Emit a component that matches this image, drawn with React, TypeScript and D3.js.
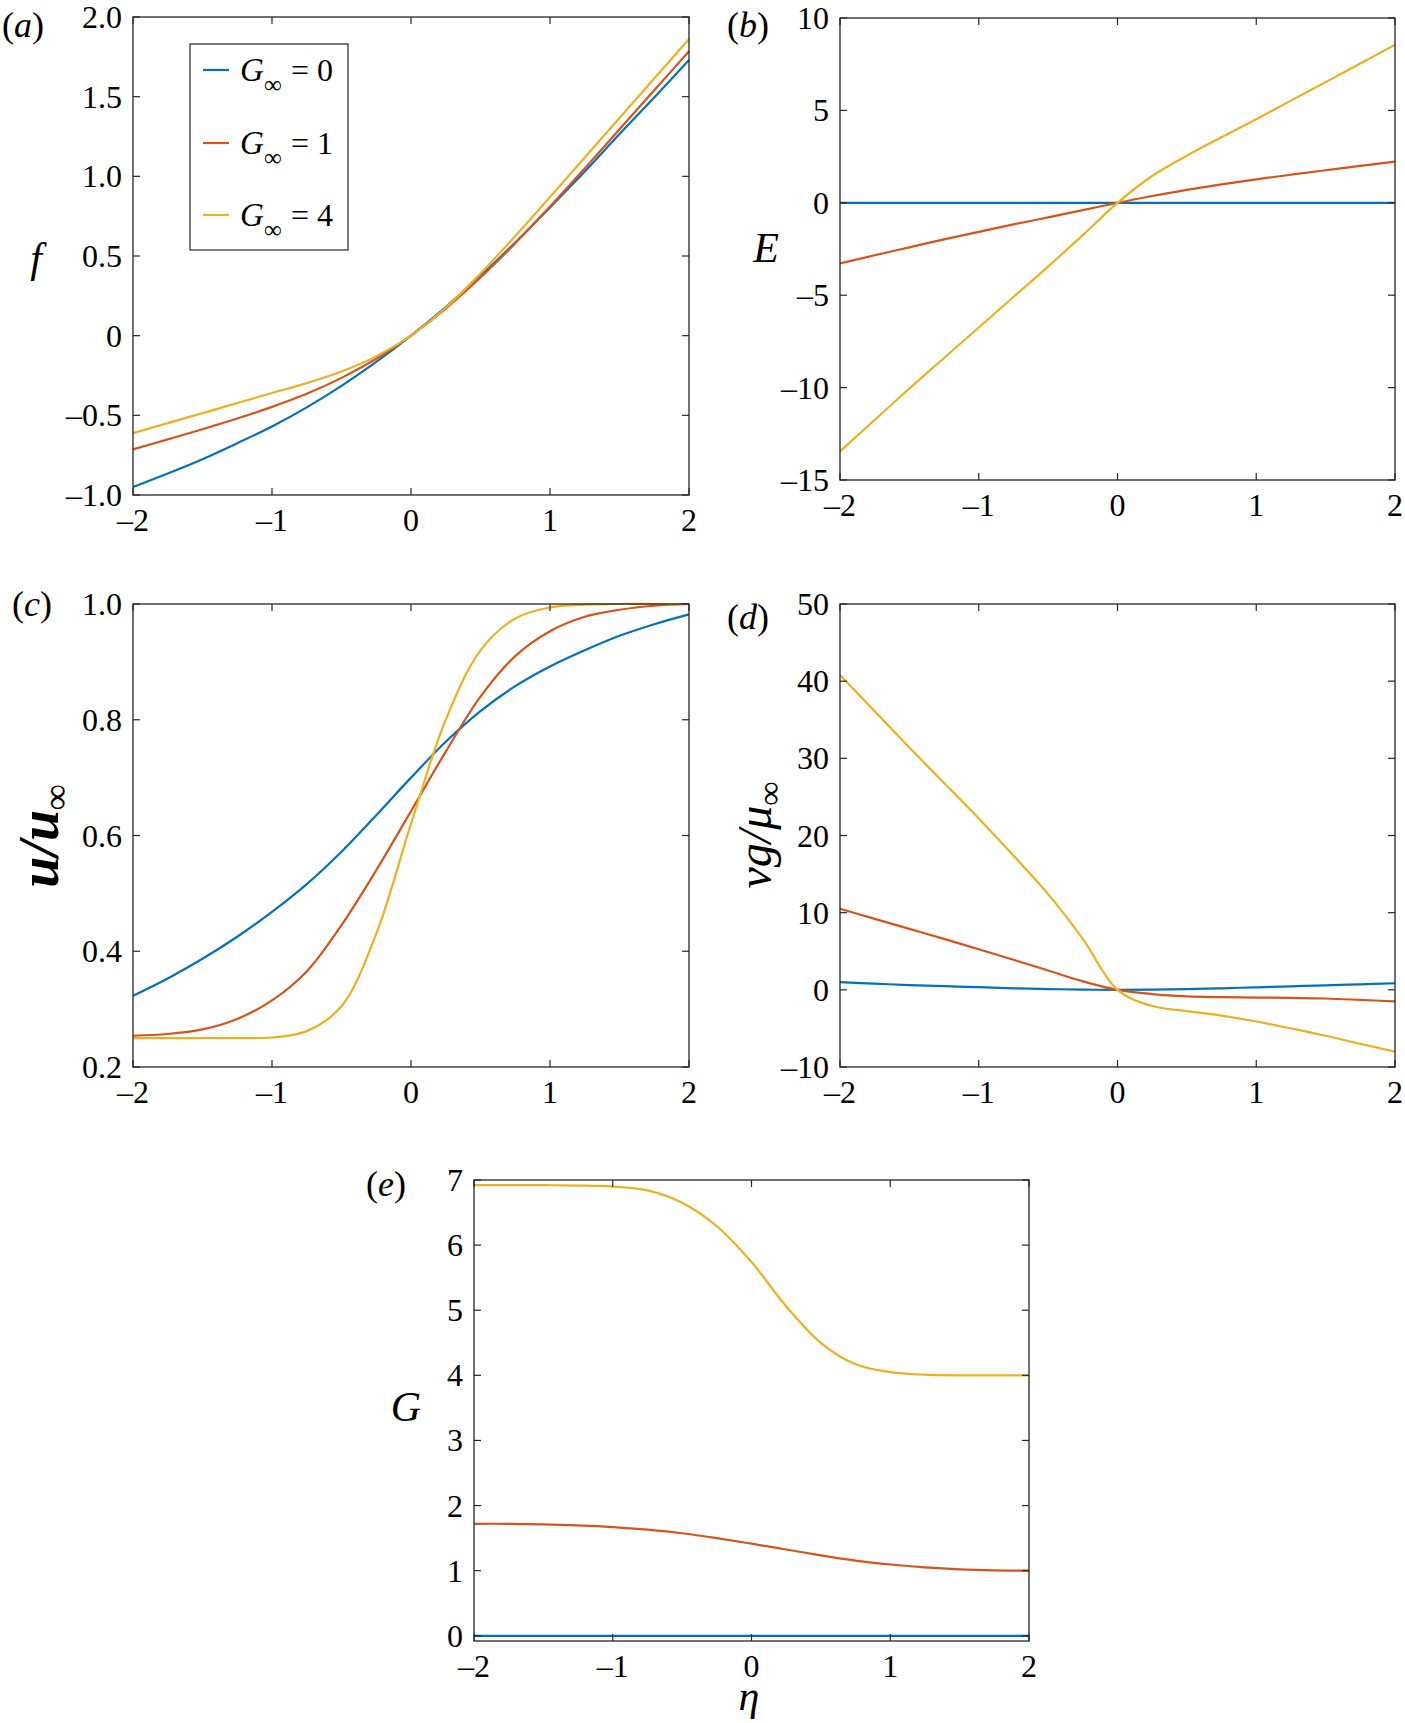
import React from 'react';
import * as d3 from 'd3';

// ---------- data ----------
const eta = [-2, -1.75, -1.5, -1.25, -1, -0.75, -0.5, -0.25, 0, 0.25, 0.5, 0.75, 1, 1.25, 1.5, 1.75, 2];
const seriesNames = ['G∞ = 0', 'G∞ = 1', 'G∞ = 4'];
const legendValues = ['0', '1', '4'];

// (a) f
const fG0 = [-0.95, -0.865, -0.775, -0.675, -0.57, -0.45, -0.315, -0.165, 0, 0.18, 0.375, 0.585, 0.805, 1.03, 1.265, 1.495, 1.73];
const fG1 = [-0.714, -0.651, -0.587, -0.52, -0.447, -0.365, -0.265, -0.145, 0, 0.17, 0.365, 0.58, 0.81, 1.05, 1.295, 1.54, 1.785];
const fG4 = [-0.612, -0.549, -0.486, -0.423, -0.36, -0.298, -0.225, -0.13, 0, 0.175, 0.39, 0.625, 0.87, 1.118, 1.366, 1.614, 1.862];

// (b) E
const eG0 = [0, 0, 0, 0, 0, 0, 0, 0, 0, 0, 0, 0, 0, 0, 0, 0, 0];
const eG1 = [-3.28, -2.84, -2.41, -1.98, -1.57, -1.17, -0.79, -0.4, 0, 0.37, 0.7, 1.0, 1.27, 1.52, 1.76, 2.0, 2.23];
const eG4 = [-13.45, -11.75, -10.05, -8.4, -6.75, -5.1, -3.45, -1.75, 0, 1.45, 2.55, 3.55, 4.52, 5.53, 6.53, 7.54, 8.55];

// (c) u/u_inf
const uG0 = [0.323, 0.353, 0.387, 0.425, 0.468, 0.516, 0.572, 0.635, 0.70, 0.762, 0.815, 0.858, 0.892, 0.92, 0.945, 0.965, 0.982];
const uG1 = [0.254, 0.257, 0.265, 0.283, 0.315, 0.365, 0.445, 0.54, 0.642, 0.745, 0.84, 0.91, 0.953, 0.978, 0.99, 0.997, 1.0];
const uG4 = [0.25, 0.25, 0.25, 0.25, 0.251, 0.262, 0.305, 0.43, 0.62, 0.80, 0.92, 0.975, 0.994, 0.999, 1.0, 1.0, 1.0];

// (d) vg/mu_inf
const vG0 = [1.0, 0.8, 0.62, 0.47, 0.34, 0.2, 0.1, 0.03, 0, 0.02, 0.08, 0.2, 0.33, 0.46, 0.58, 0.72, 0.85];
const vG1 = [10.5, 9.2, 7.9, 6.6, 5.25, 3.9, 2.5, 1.1, 0, -0.55, -0.85, -0.95, -1.0, -1.05, -1.12, -1.3, -1.5];
const vG4 = [40.8, 36.1, 31.4, 26.8, 22.2, 17.4, 12.4, 6.6, 0, -2.1, -2.75, -3.35, -4.1, -5.0, -5.95, -7.0, -8.0];

// (e) G
const gG0 = [0, 0, 0, 0, 0, 0, 0, 0, 0, 0, 0, 0, 0, 0, 0, 0, 0];
const gG1 = [1.72, 1.72, 1.71, 1.695, 1.67, 1.63, 1.575, 1.5, 1.415, 1.325, 1.235, 1.155, 1.095, 1.05, 1.02, 1.005, 1.0];
const gG4 = [6.92, 6.92, 6.92, 6.915, 6.9, 6.84, 6.65, 6.29, 5.74, 5.06, 4.5, 4.17, 4.05, 4.01, 4.0, 4.0, 4.0];

const xTicks = [-2, -1, 0, 1, 2];
const fTicks = [-1, -0.5, 0, 0.5, 1, 1.5, 2];
const eTicks = [-15, -10, -5, 0, 5, 10];
const uTicks = [0.2, 0.4, 0.6, 0.8, 1.0];
const vTicks = [-10, 0, 10, 20, 30, 40, 50];
const gTicks = [0, 1, 2, 3, 4, 5, 6, 7];

const COLORS = ['#0072BD', '#D95319', '#EDB120'];
const FONT = "'Liberation Serif', 'Times New Roman', Times, serif";
const AXC = '#262626';
const TICKFS = 32;

const fmtInt = (v: number) => (v < 0 ? '\u2013' + Math.abs(v) : String(v));
const fmt1 = (v: number) => (v === 0 ? '0' : (v < 0 ? '\u2013' : '') + Math.abs(v).toFixed(1));

type PanelProps = {
  x0: number; x1: number; y0: number; y1: number;
  yDomain: [number, number];
  yTicks: number[];
  yFmt: (v: number) => string;
  series: number[][];
};

function Panel({ x0, x1, y0, y1, yDomain, yTicks, yFmt, series }: PanelProps) {
  const xs = d3.scaleLinear().domain([-2, 2]).range([x0, x1]);
  const ys = d3.scaleLinear().domain(yDomain).range([y1, y0]);
  const line = d3
    .line<number>()
    .x((_, i) => xs(eta[i]))
    .y((d) => ys(d))
    .curve(d3.curveCatmullRom.alpha(0.5));
  const TL = 7;
  const ts = { fontFamily: FONT, fontSize: TICKFS } as React.CSSProperties;
  return (
    <g>
      <rect x={x0} y={y0} width={x1 - x0} height={y1 - y0} fill="white" stroke="none" />
      {series.map((s, i) => (
        <path key={i} d={line(s) || ''} fill="none" stroke={COLORS[i]} strokeWidth={2.2} />
      ))}
      <rect x={x0} y={y0} width={x1 - x0} height={y1 - y0} fill="none" stroke={AXC} strokeWidth={1.3} />
      {xTicks.map((t) => (
        <g key={'x' + t}>
          <line x1={xs(t)} x2={xs(t)} y1={y1} y2={y1 - TL} stroke={AXC} strokeWidth={1.2} />
          <line x1={xs(t)} x2={xs(t)} y1={y0} y2={y0 + TL} stroke={AXC} strokeWidth={1.2} />
          <text x={xs(t)} y={y1 + 36} textAnchor="middle" style={ts} fill="#000">
            {fmtInt(t)}
          </text>
        </g>
      ))}
      {yTicks.map((t) => (
        <g key={'y' + t}>
          <line x1={x0} x2={x0 + TL} y1={ys(t)} y2={ys(t)} stroke={AXC} strokeWidth={1.2} />
          <line x1={x1} x2={x1 - TL} y1={ys(t)} y2={ys(t)} stroke={AXC} strokeWidth={1.2} />
          <text x={x0 - 11} y={ys(t) + 11} textAnchor="end" style={ts} fill="#000">
            {yFmt(t)}
          </text>
        </g>
      ))}
    </g>
  );
}

function PanelLabel({ x, y, letter }: { x: number; y: number; letter: string }) {
  return (
    <text x={x} y={y} style={{ fontFamily: FONT, fontSize: 36 }} fill="#000">
      (<tspan style={{ fontStyle: 'italic' }}>{letter}</tspan>)
    </text>
  );
}

const axStyle = { fontFamily: FONT, fontSize: 42, fontStyle: 'italic' } as React.CSSProperties;

export default function App() {
  const legendY = [70, 143, 215];
  return (
    <svg
      width={1405}
      height={1723}
      viewBox="0 0 1405 1723"
      style={{ position: 'absolute', left: 0, top: 0, background: 'white', fontFamily: FONT }}
    >
      <rect x={0} y={0} width={1405} height={1723} fill="white" />

      {/* (a) */}
      <Panel x0={133} x1={689} y0={17} y1={495} yDomain={[-1, 2]} yTicks={fTicks} yFmt={fmt1} series={[fG0, fG1, fG4]} />
      <PanelLabel x={2} y={37} letter="a" />
      <text x={36} y={272} textAnchor="middle" style={axStyle}>f</text>
      <g>
        <rect x={190} y={44} width={158} height={206} fill="white" stroke={AXC} strokeWidth={1.2} />
        {legendY.map((ly, i) => (
          <g key={i}>
            <line x1={203} x2={229} y1={ly} y2={ly} stroke={COLORS[i]} strokeWidth={2.2} />
            <text x={240} y={ly + 11} style={{ fontFamily: FONT, fontSize: 33, fontStyle: 'italic' }} aria-label={seriesNames[i]}>G</text>
            <text x={264} y={ly + 23} style={{ fontFamily: FONT, fontSize: 25 }}>∞</text>
            <text x={291} y={ly + 11} style={{ fontFamily: FONT, fontSize: 32 }}>= {legendValues[i]}</text>
          </g>
        ))}
      </g>

      {/* (b) */}
      <Panel x0={840} x1={1395} y0={18} y1={480} yDomain={[-15, 10]} yTicks={eTicks} yFmt={fmtInt} series={[eG0, eG1, eG4]} />
      <PanelLabel x={727} y={37} letter="b" />
      <text x={766} y={262} textAnchor="middle" style={axStyle}>E</text>

      {/* (c) */}
      <Panel x0={133} x1={689} y0={604} y1={1067} yDomain={[0.2, 1.0]} yTicks={uTicks} yFmt={fmt1} series={[uG0, uG1, uG4]} />
      <PanelLabel x={12} y={616} letter="c" />
      <text
        transform="translate(58,836) rotate(-90)"
        textAnchor="middle"
        style={{ fontFamily: FONT, fontSize: 56, fontStyle: 'italic', fontWeight: 'bold' }}
      >
        u/u<tspan style={{ fontSize: 36, fontWeight: 'normal' }} dy={10}>∞</tspan>
      </text>

      {/* (d) */}
      <Panel x0={840} x1={1395} y0={604} y1={1067} yDomain={[-10, 50]} yTicks={vTicks} yFmt={fmtInt} series={[vG0, vG1, vG4]} />
      <PanelLabel x={727} y={629} letter="d" />
      <text transform="translate(771,835) rotate(-90)" textAnchor="middle" style={{ fontFamily: FONT, fontSize: 48, fontStyle: 'italic' }}>
        vg/μ<tspan style={{ fontSize: 34, fontStyle: 'normal' }} dy={10}>∞</tspan>
      </text>

      {/* (e) */}
      <Panel x0={474} x1={1029} y0={1180} y1={1641} yDomain={[-0.08, 7]} yTicks={gTicks} yFmt={fmtInt} series={[gG0, gG1, gG4]} />
      <PanelLabel x={366} y={1196} letter="e" />
      <text x={406} y={1421} textAnchor="middle" style={axStyle}>G</text>
      <text x={749} y={1710} textAnchor="middle" style={axStyle}>η</text>
    </svg>
  );
}
